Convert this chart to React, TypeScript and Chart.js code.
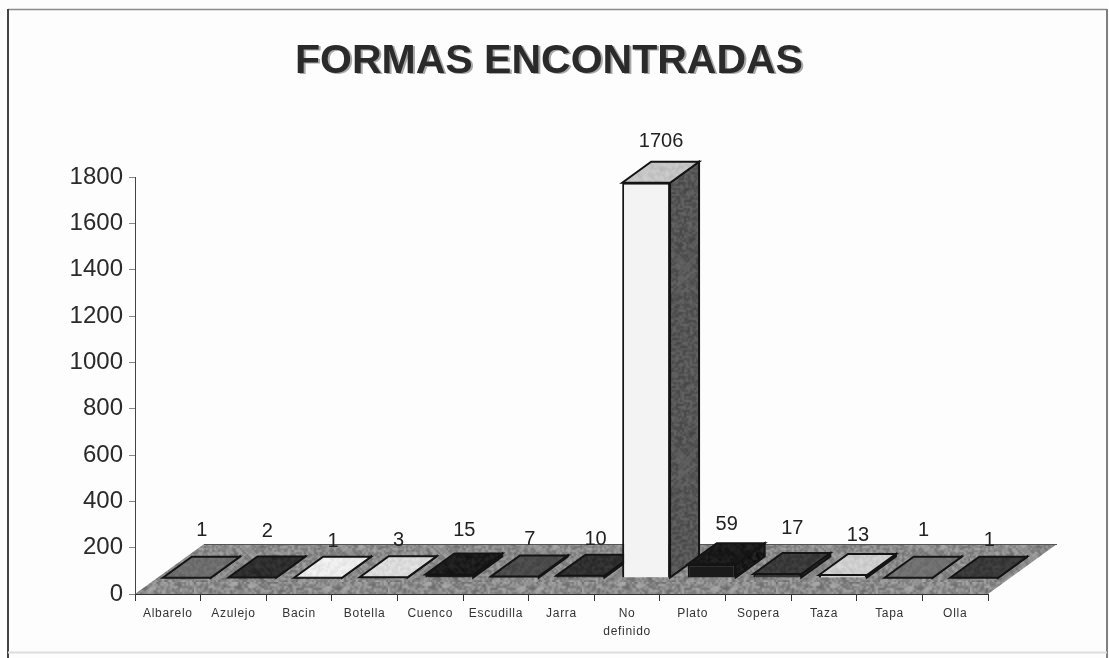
import React, { useEffect, useRef } from "react";
import { Chart, registerables } from "chart.js";

Chart.register(...registerables);

const TITLE = "FORMAS ENCONTRADAS";
const categories: (string | string[])[] = [
  "Albarelo", "Azulejo", "Bacin", "Botella", "Cuenco", "Escudilla", "Jarra",
  ["No", "definido"], "Plato", "Sopera", "Taza", "Tapa", "Olla",
];
const values = [1, 2, 1, 3, 15, 7, 10, 1706, 59, 17, 13, 1, 1];
const yTicks = [0, 200, 400, 600, 800, 1000, 1200, 1400, 1600, 1800];

// Styling: one shade per bar (front, top, side)
const frontShades = ["#6a6a6a", "#2b2b2b", "#f2f2f2", "#f0f0f0", "#1a1a1a", "#3c3c3c", "#2a2a2a", "#f3f3f3", "#1a1a1a", "#343434", "#f4f4f4", "#6a6a6a", "#343434"];
const topLevels = [110, 46, 236, 220, 28, 74, 48, 196, 26, 58, 206, 112, 58];
const sideLevels = [80, 30, 60, 60, 20, 40, 30, 86, 26, 40, 40, 80, 40];
// Label placement relative to the bar's cell centre
const labelDx = 34;
const labelY = [530, 531, 541, 540, 530, 539, 539, 141, 524, 528, 535, 530, 540];

const FLOOR_DX = 69, FLOOR_DY = -50;
const FRONT_DX = 19, FRONT_DY = -16;
const BAR_DX = 29, BAR_DY = -21;

function grain(ctx: CanvasRenderingContext2D, base: number, amp: number) {
  const n = 97;
  const c = document.createElement("canvas");
  c.width = c.height = n;
  const g = c.getContext("2d")!;
  const img = g.createImageData(n, n);
  for (let y = 0; y < n; y++) {
    for (let x = 0; x < n; x++) {
      const h = ((x * 7919 + y * 6271 + x * y * 31) ^ (x * x * 13 + y * y * 17)) & 255;
      const v = Math.max(0, Math.min(255, base + ((h - 128) / 128) * amp));
      const i = (y * n + x) * 4;
      img.data[i] = img.data[i + 1] = img.data[i + 2] = v;
      img.data[i + 3] = 255;
    }
  }
  g.putImageData(img, 0, 0);
  // soften: draw the noise twice its size so the grain looks scanned
  const c2 = document.createElement("canvas");
  c2.width = c2.height = n * 2;
  const g2 = c2.getContext("2d")!;
  g2.imageSmoothingEnabled = true;
  g2.drawImage(c, 0, 0, n * 2, n * 2);
  return ctx.createPattern(c2, "repeat")!;
}

function poly(ctx: CanvasRenderingContext2D, pts: number[][], fill: string | CanvasPattern, stroke?: string, lw = 1) {
  ctx.beginPath();
  pts.forEach(([x, y], i) => (i ? ctx.lineTo(x, y) : ctx.moveTo(x, y)));
  ctx.closePath();
  ctx.fillStyle = fill;
  ctx.fill();
  if (stroke) {
    ctx.strokeStyle = stroke;
    ctx.lineWidth = lw;
    ctx.lineJoin = "miter";
    ctx.stroke();
  }
}

function line(ctx: CanvasRenderingContext2D, x0: number, y0: number, x1: number, y1: number, color: string, w: number) {
  ctx.strokeStyle = color;
  ctx.lineWidth = w;
  ctx.beginPath();
  ctx.moveTo(x0, y0);
  ctx.lineTo(x1, y1);
  ctx.stroke();
}

const prism3d = {
  id: "prism3d",
  afterLayout(chart: any) {
    // the title is centred on the frame, not on the narrower plot box
    const tb = chart.titleBlock;
    if (tb) { tb.left += 55; tb.right += 55; }
    const sx = chart.scales.x;
    if (sx && !sx.__spaced) {
      sx.__spaced = true;
      const orig = sx.drawLabels;
      sx.drawLabels = function (area: any) {
        const c = chart.ctx;
        c.save();
        c.letterSpacing = "0.7px";
        orig.call(sx, area);
        c.restore();
      };
    }
  },
  beforeDraw(chart: any) {
    const ctx = chart.ctx;
    ctx.save();
    ctx.fillStyle = "#fdfdfd";
    ctx.fillRect(0, 0, chart.width, chart.height);
    // frame
    line(ctx, 8, 9.5, 1107, 9.5, "#8a8a8a", 1.5);
    line(ctx, 8, 9, 8, 658, "#444", 2);
    line(ctx, 1107, 9, 1107, 658, "#808080", 2);
    line(ctx, 8, 652.5, 1107, 652.5, "#dedede", 2);
    // title shadow
    ctx.font = "bold 41px 'Liberation Sans'";
    ctx.fillStyle = "#a8a8a8";
    ctx.textAlign = "center";
    ctx.textBaseline = "middle";
    ctx.fillText(TITLE, 549 + 2, 61 + 2);
    ctx.restore();
  },
  beforeDatasetsDraw(chart: any) {
    const ctx = chart.ctx;
    const { left, right, bottom } = chart.chartArea;
    ctx.save();
    poly(ctx, [[left, bottom], [left + FLOOR_DX, bottom + FLOOR_DY], [right + FLOOR_DX, bottom + FLOOR_DY], [right, bottom]], grain(ctx, 138, 34));
    line(ctx, left + FLOOR_DX, bottom + FLOOR_DY + 0.5, right + FLOOR_DX, bottom + FLOOR_DY + 0.5, "#555", 1);
    const meta = chart.getDatasetMeta(0);
    meta.data.forEach((el: any, i: number) => {
      const w = el.width / 2;
      const l = el.x - w + FRONT_DX, r = el.x + w + FRONT_DX;
      const t = el.y + FRONT_DY, b = el.base + FRONT_DY;
      poly(ctx, [[r, t], [r + BAR_DX, t + BAR_DY], [r + BAR_DX, b + BAR_DY], [r, b]], grain(ctx, sideLevels[i], 20), "#141414", 2);
      poly(ctx, [[l, t], [l + BAR_DX, t + BAR_DY], [r + BAR_DX, t + BAR_DY], [r, t]], grain(ctx, topLevels[i], 12), "#141414", 2);
    });
    ctx.restore();
    ctx.save();
    ctx.translate(FRONT_DX, FRONT_DY);
  },
  afterDatasetsDraw(chart: any) {
    const ctx = chart.ctx;
    ctx.restore();
    ctx.save();
    ctx.font = "20px 'Liberation Sans'";
    ctx.fillStyle = "#222";
    ctx.textAlign = "center";
    ctx.textBaseline = "middle";
    const meta = chart.getDatasetMeta(0);
    meta.data.forEach((el: any, i: number) => {
      ctx.fillText(String(values[i]), el.x + labelDx, labelY[i]);
    });
    ctx.restore();
  },
};

export default function App() {
  const ref = useRef<HTMLCanvasElement>(null);
  useEffect(() => {
    document.body.style.margin = "0";
    const chart = new Chart(ref.current!, {
      type: "bar",
      data: {
        labels: categories,
        datasets: [{
          data: values,
          backgroundColor: frontShades,
          borderColor: "#141414",
          borderWidth: 2,
          barPercentage: 0.73,
          categoryPercentage: 1,
        }],
      },
      plugins: [prism3d],
      options: {
        responsive: false,
        animation: false,
        layout: { padding: { left: 0, right: 121, top: 0, bottom: 0 } },
        plugins: {
          legend: { display: false },
          tooltip: { enabled: false },
          title: {
            display: true,
            text: TITLE,
            color: "#2a2a2a",
            font: { family: "'Liberation Sans'", size: 41, weight: "bold", lineHeight: 1 },
            padding: { top: 41, bottom: 95 },
          },
        },
        scales: {
          x: {
            grid: { drawOnChartArea: false, drawTicks: true, tickLength: 7, tickColor: "#333", offset: true },
            border: { color: "#333", width: 1 },
            afterFit: (s: any) => { s.height = 64; },
            ticks: {
              color: "#333",
              maxRotation: 0,
              minRotation: 0,
              autoSkip: false,
              padding: 4,
              font: { family: "'Liberation Sans'", size: 12, lineHeight: 1.5 },
            },
          },
          y: {
            min: 0,
            max: 1800,
            afterBuildTicks: (s: any) => { s.ticks = yTicks.map((value) => ({ value })); },
            grid: { drawOnChartArea: false, drawTicks: true, tickLength: 6, tickColor: "#888" },
            border: { color: "#444", width: 1 },
            afterFit: (s: any) => { s.width = 135; },
            ticks: {
              color: "#2a2a2a",
              padding: 6,
              font: { family: "'Liberation Sans'", size: 24 },
              callback: (v: any) => String(v),
            },
          },
        },
      } as any,
    });
    return () => chart.destroy();
  }, []);
  return <canvas ref={ref} width={1109} height={658} style={{ display: "block" }} />;
}
